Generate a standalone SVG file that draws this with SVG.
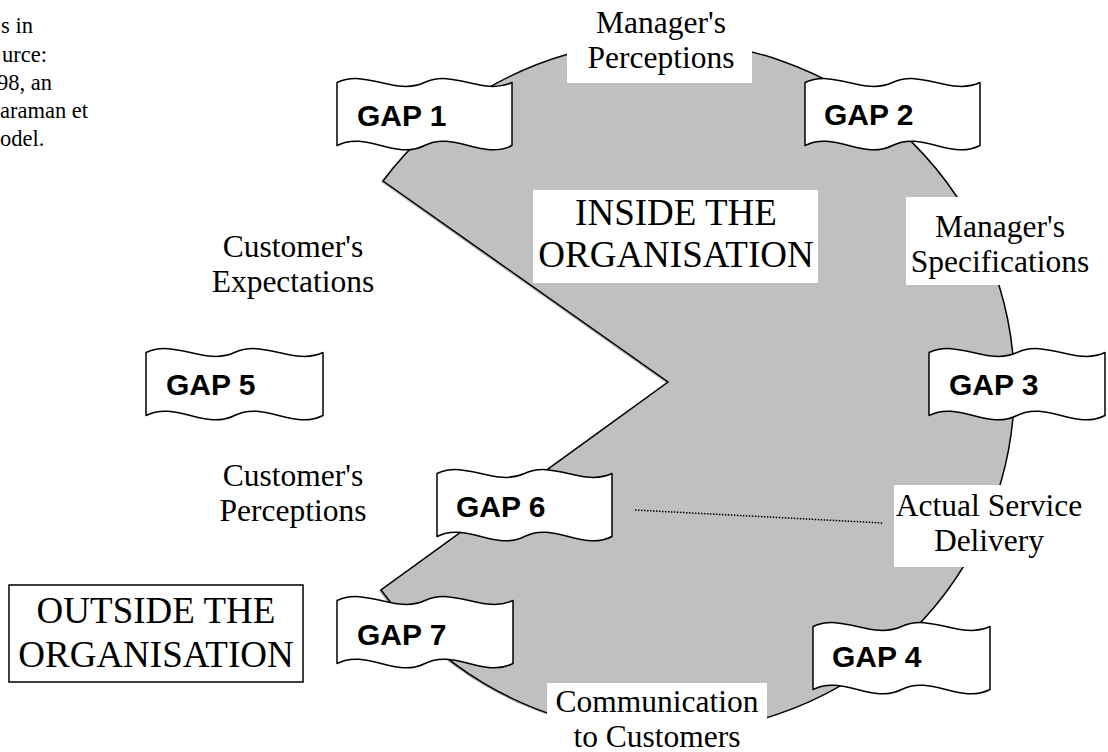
<svg xmlns="http://www.w3.org/2000/svg" width="1108" height="752" viewBox="0 0 1108 752">
  <style>
    .lbl { font-family: "Liberation Serif", "Times New Roman", serif; font-size: 31.5px; fill: #000; text-anchor: middle; }
    .big { font-family: "Liberation Serif", "Times New Roman", serif; font-size: 37px; fill: #000; text-anchor: middle; }
    .note { font-family: "Liberation Serif", "Times New Roman", serif; font-size: 22.5px; fill: #000; }
    .gap { font-family: "Liberation Sans", Arial, sans-serif; font-size: 30px; font-weight: bold; fill: #000; }
    .flag { fill: #fff; stroke: #000; stroke-width: 1.5; stroke-linejoin: round; }
    .bg { fill: #fff; stroke: none; }
  </style>

  <rect width="1108" height="752" fill="#fff"/>

  <!-- caption running in from the left edge -->
  <g id="caption">
    <text class="note" x="1" y="33">s in</text>
    <text class="note" x="2" y="62">urce:</text>
    <text class="note" x="-3" y="90">98, an</text>
    <text class="note" x="0" y="118">araman et</text>
    <text class="note" x="0" y="146">odel.</text>
  </g>

  <!-- the organisation: a disc with a wedge cut out on the left -->
  <g id="organisation">
    <path d="M383,181 L668,382 L381,590 A350 346 0 1 0 383,181 Z" fill="#b4b4b4" transform="translate(-2,1)"/>
    <path d="M383,181 L668,382 L381,590 A350 346 0 1 0 383,181 Z" fill="#c0c0c0" stroke="#000" stroke-width="1.5" stroke-linejoin="miter"/>
  </g>

  <!-- stage labels -->
  <g id="managers-perceptions">
    <rect class="bg" x="567" y="0" width="185" height="83"/>
    <text class="lbl" x="661" y="33">Manager's</text>
    <text class="lbl" x="661" y="68">Perceptions</text>
  </g>
  <g id="managers-specifications">
    <rect class="bg" x="906" y="197" width="190" height="88"/>
    <text class="lbl" x="1000" y="237">Manager's</text>
    <text class="lbl" x="1000" y="272">Specifications</text>
  </g>
  <g id="actual-service-delivery">
    <rect class="bg" x="894" y="485" width="196" height="82"/>
    <text class="lbl" x="989" y="516">Actual Service</text>
    <text class="lbl" x="989" y="551">Delivery</text>
  </g>
  <g id="communication">
    <rect class="bg" x="547" y="683" width="220" height="69"/>
    <text class="lbl" x="657" y="712">Communication</text>
    <text class="lbl" x="657" y="747">to Customers</text>
  </g>
  <g id="customers-expectations">
    <text class="lbl" x="293" y="257">Customer's</text>
    <text class="lbl" x="293" y="292">Expectations</text>
  </g>
  <g id="customers-perceptions">
    <text class="lbl" x="293" y="486">Customer's</text>
    <text class="lbl" x="293" y="521">Perceptions</text>
  </g>

  <!-- region titles -->
  <g id="inside">
    <rect class="bg" x="533" y="190" width="285" height="93"/>
    <text class="big" x="676" y="225">INSIDE THE</text>
    <text class="big" x="676" y="267">ORGANISATION</text>
  </g>
  <g id="outside">
    <rect x="9" y="585" width="294" height="97" fill="#fff" stroke="#000" stroke-width="1.5"/>
    <text class="big" x="156" y="623">OUTSIDE THE</text>
    <text class="big" x="156" y="667">ORGANISATION</text>
  </g>

  <!-- connector -->
  <g id="connectors">
    <line x1="635" y1="510" x2="883" y2="523" stroke="#000" stroke-width="1.5" stroke-dasharray="1.5 1.5"/>
  </g>

  <!-- gap flags (double-wave banners) -->
  <g id="gap1">
    <path class="flag" d="M337,82.5 C366.2,69 395.3,96 424.5,82.5 C453.7,69 482.8,96 512,82.5 L512,145.5 C482.8,160.5 453.7,130.5 424.5,145.5 C395.3,160.5 366.2,130.5 337,145.5 Z"/>
    <text class="gap" x="357" y="126">GAP 1</text>
  </g>
  <g id="gap2">
    <path class="flag" d="M805,82.5 C834.2,69 863.3,96 892.5,82.5 C921.7,69 950.8,96 980,82.5 L980,145.5 C950.8,160.5 921.7,130.5 892.5,145.5 C863.3,160.5 834.2,130.5 805,145.5 Z"/>
    <text class="gap" x="824" y="125">GAP 2</text>
  </g>
  <g id="gap3">
    <path class="flag" d="M929,352.5 C958.3,339 987.7,366 1017,352.5 C1046.3,339 1075.7,366 1105,352.5 L1105,415.5 C1075.7,430.5 1046.3,400.5 1017,415.5 C987.7,430.5 958.3,400.5 929,415.5 Z"/>
    <text class="gap" x="949" y="395">GAP 3</text>
  </g>
  <g id="gap4">
    <path class="flag" d="M813,626.5 C842.5,613 872,640 901.5,626.5 C931,613 960.5,640 990,626.5 L990,689.5 C960.5,704.5 931,674.5 901.5,689.5 C872,704.5 842.5,674.5 813,689.5 Z"/>
    <text class="gap" x="832" y="667">GAP 4</text>
  </g>
  <g id="gap5">
    <path class="flag" d="M146,352.5 C175.5,339 205,366 234.5,352.5 C264,339 293.5,366 323,352.5 L323,415.5 C293.5,430.5 264,400.5 234.5,415.5 C205,430.5 175.5,400.5 146,415.5 Z"/>
    <text class="gap" x="166" y="395">GAP 5</text>
  </g>
  <g id="gap6">
    <path class="flag" d="M437,473.5 C466.2,460 495.3,487 524.5,473.5 C553.7,460 582.8,487 612,473.5 L612,536.5 C582.8,551.5 553.7,521.5 524.5,536.5 C495.3,551.5 466.2,521.5 437,536.5 Z"/>
    <text class="gap" x="456" y="517">GAP 6</text>
  </g>
  <g id="gap7">
    <path class="flag" d="M337,600.5 C366.3,587 395.7,614 425,600.5 C454.3,587 483.7,614 513,600.5 L513,663.5 C483.7,678.5 454.3,648.5 425,663.5 C395.7,678.5 366.3,648.5 337,663.5 Z"/>
    <text class="gap" x="357" y="645">GAP 7</text>
  </g>
</svg>
